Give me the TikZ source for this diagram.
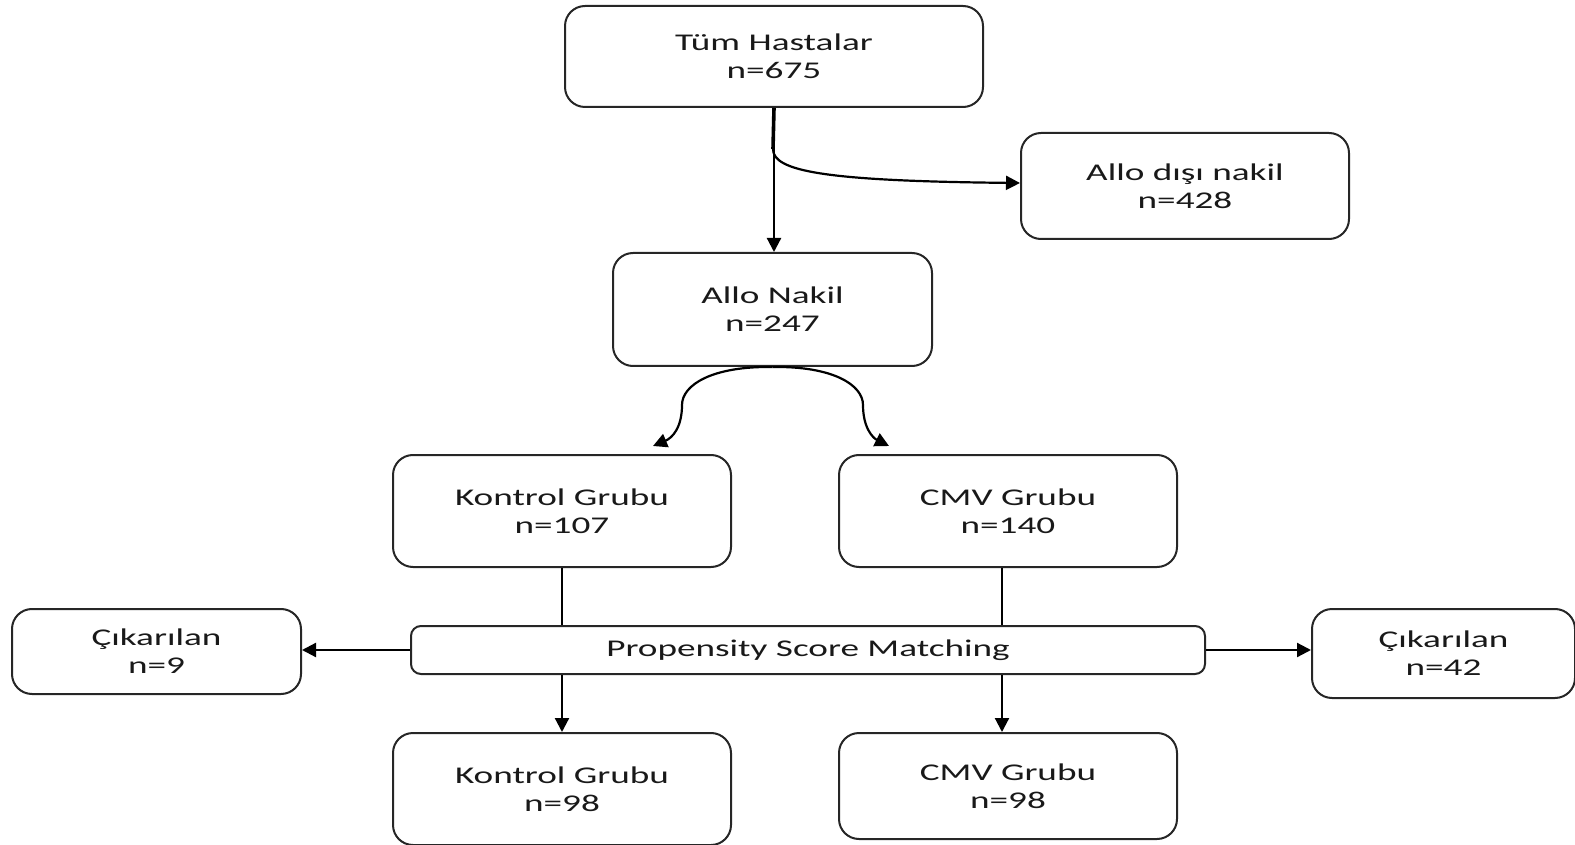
\documentclass[tikz,border=0pt]{standalone}
\usepackage{fontspec}
\setmainfont{Carlito}[FakeStretch=1.55]
\usetikzlibrary{arrows.meta,calc}
\begin{document}
\begin{tikzpicture}[x=0.5pt,y=-0.5pt,
  box/.style={draw=black!85, line width=1pt, rounded corners=10pt, align=center, inner sep=0pt,
    font=\fontsize{12}{14}\selectfont, text=black!90},
  link/.style={draw=black, line width=1.1pt},
  arr/.style={link, -{Triangle[length=7pt,width=7pt]}}]
\useasboundingbox (0,0) rectangle (1575,845);
\node[box, minimum width=209pt, minimum height=50.5pt] (tum) at (774,56.5) {Tüm Hastalar\\n=675};
\node[box, minimum width=164pt, minimum height=53pt] (disi) at (1185,186) {Allo dışı nakil\\n=428};
\node[box, minimum width=159.5pt, minimum height=56.5pt] (allo) at (772.5,309.5) {Allo Nakil\\n=247};
\node[box, minimum width=169pt, minimum height=56pt] (kon1) at (562,511) {Kontrol Grubu\\n=107};
\node[box, minimum width=169pt, minimum height=56pt] (cmv1) at (1008,511) {CMV Grubu\\n=140};
\node[box, minimum width=144.5pt, minimum height=42.5pt] (cik9) at (156.5,651.5) {Çıkarılan\\n=9};
\node[box, rounded corners=5pt, minimum width=397pt, minimum height=24pt] (psm) at (808,650) {Propensity Score Matching};
\node[box, minimum width=131.5pt, minimum height=44.5pt] (cik42) at (1443.5,653.5) {Çıkarılan\\n=42};
\node[box, minimum width=169pt, minimum height=56pt] (kon2) at (562,789) {Kontrol Grubu\\n=98};
\node[box, minimum width=169pt, minimum height=53pt] (cmv2) at (1008,786) {CMV Grubu\\n=98};
% top
\coordinate (br) at ($(tum.south)+(-1,41)$);
\draw[link, line width=1.8pt] (tum.south) -- (br);
\draw[arr] (tum.south) -- (tum.south |- allo.north);
\draw[arr] (br) .. controls ($(br)+(0,22)$) and ($(br)+(50,32)$) .. ($(disi.west)+(0,-3)$);
% arches
\draw[arr] (allo.south) .. controls (712,366) and (682,385) .. (682,405)
  .. controls (682,428) and (672,438) .. ($(kon1.north)+(91,-8)$);
\draw[arr] (allo.south) .. controls (833,366) and (863,385) .. (863,405)
  .. controls (863,428) and (873,438) .. ($(cmv1.north)+(-119,-8)$);
% to PSM
\draw[link] (kon1.south) -- (kon1.south |- psm.north);
\draw[link] ($(cmv1.south)+(-6,0)$) -- ($(cmv1.south |- psm.north)+(-6,0)$);
\draw[arr] (kon1.south |- psm.south) -- (kon2.north);
\draw[arr] ($(cmv1.south |- psm.south)+(-6,0)$) -- ($(cmv2.north)+(-6,0)$);
\draw[arr] (psm.west) -- (psm.west -| cik9.east);
\draw[arr] (psm.east) -- (psm.east -| cik42.west);
\end{tikzpicture}
\end{document}
